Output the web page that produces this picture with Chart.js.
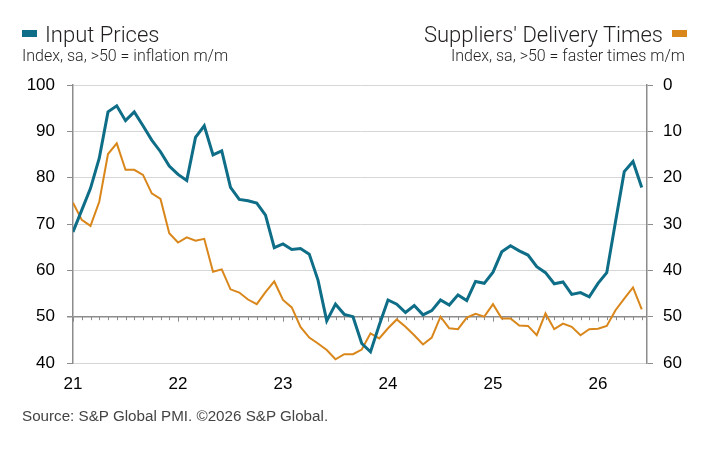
<!DOCTYPE html>
<html>
<head>
<meta charset="utf-8">
<script src="https://cdn.jsdelivr.net/npm/chart.js@4.4.1/dist/chart.umd.min.js"></script>
<style>
  body { margin: 0; background: #fff; }
  #wrap { position: relative; width: 719px; height: 452px; overflow: hidden; color: #231f20; }
  #chart { position: absolute; left: 0; top: 0; }
  .t { position: absolute; white-space: nowrap; font-family: Roboto, "Liberation Sans", sans-serif; font-weight: 300; }
  .title { font-size: 22px; line-height: 22px; top: 24px; }
  .sub { font-size: 16px; line-height: 16px; top: 48px; }
  .sq { position: absolute; top: 30px; width: 15px; height: 7px; }
  .src { position: absolute; left: 22px; top: 408px; font-family: "Liberation Sans", Arial, sans-serif; font-size: 15.2px; line-height: 15px; color: #444; white-space: nowrap; }
</style>
</head>
<body>
<div id="wrap">
  <canvas id="chart" width="719" height="452"></canvas>
  <div class="sq" style="left:22px;background:#0e6d87"></div>
  <div class="t title" style="left:45px">Input Prices</div>
  <div class="t sub" style="left:22px">Index, sa, &gt;50 = inflation m/m</div>
  <div class="t title" style="right:56px">Suppliers' Delivery Times</div>
  <div class="sq" style="left:672px;background:#d9861a"></div>
  <div class="t sub" style="right:34px">Index, sa, &gt;50 = faster times m/m</div>
  <div class="src">Source: S&amp;P Global PMI. ©2026 S&amp;P Global.</div>
</div>
<script>
// monthly, Jan 2021 .. Jun 2026
const yearLabels = ["21", "22", "23", "24", "25", "26"];
const inputPrices = [68.3, 73.0, 77.7, 84.2, 94.2, 95.5, 92.3, 94.2, 91.2, 88.1, 85.6, 82.5,
  80.7, 79.4, 88.7, 91.2, 84.9, 85.8, 77.9, 75.3, 75.0, 74.5, 71.9, 64.9,
  65.7, 64.5, 64.7, 63.5, 57.9, 49.1, 52.7, 50.5, 50.0, 44.2, 42.4, 48.2,
  53.6, 52.7, 50.9, 52.4, 50.4, 51.3, 53.6, 52.5, 54.7, 53.5, 57.6, 57.2,
  59.6, 64.0, 65.3, 64.2, 63.3, 60.8, 59.5, 57.1, 57.5, 54.8, 55.2, 54.3,
  57.2, 59.5, 70.5, 81.3, 83.5, 77.9];
// right axis, inverted
const deliveryTimes = [25.4, 29.1, 30.4, 25.2, 14.9, 12.6, 18.3, 18.3, 19.4, 23.4, 24.6, 32.0,
  34.0, 32.9, 33.6, 33.2, 40.3, 39.8, 44.1, 44.8, 46.3, 47.3, 44.7, 42.4,
  46.4, 48.0, 52.2, 54.5, 55.8, 57.2, 59.2, 58.1, 58.1, 57.1, 53.6, 54.7,
  52.5, 50.6, 52.2, 54.0, 56.0, 54.5, 50.0, 52.5, 52.7, 50.2, 49.4, 50.0,
  47.3, 50.4, 50.4, 51.9, 52.0, 54.0, 49.3, 52.7, 51.5, 52.2, 54.0, 52.7,
  52.6, 52.0, 48.6, 46.1, 43.7, 48.4];

const blue = "#0e6d87";
const orange = "#d9861a";
const axisGrey = "#8c8c8c";
const tickFont = { family: "'Liberation Sans', Arial, sans-serif", size: 17 };

// small month ticks hanging under the 50 line
const monthTicks = {
  id: "monthTicks",
  beforeDatasetsDraw(chart) {
    const { ctx, scales: { x, y } } = chart;
    const y50 = y.getPixelForValue(50);
    ctx.save();
    ctx.strokeStyle = axisGrey;
    ctx.lineWidth = 1;
    inputPrices.forEach((v, i) => {
      const px = Math.round(x.getPixelForValue(i)) + 0.5;
      ctx.beginPath();
      ctx.moveTo(px, y50);
      ctx.lineTo(px, y50 + (i % 12 === 0 ? 5 : 3.5));
      ctx.stroke();
    });
    ctx.restore();
  },
};

new Chart(document.getElementById("chart"), {
  type: "line",
  data: {
    datasets: [
      {
        label: "Input Prices",
        data: inputPrices.map((v, i) => ({ x: i, y: v })),
        borderColor: blue,
        borderWidth: 3,
        pointRadius: 0,
        tension: 0,
        yAxisID: "y",
      },
      {
        label: "Suppliers' Delivery Times",
        data: deliveryTimes.map((v, i) => ({ x: i, y: v })),
        borderColor: orange,
        borderWidth: 2,
        pointRadius: 0,
        tension: 0,
        yAxisID: "y1",
      },
    ],
  },
  options: {
    responsive: false,
    animation: false,
    layout: { padding: { top: 85 } },
    plugins: {
      legend: { display: false },
      tooltip: { enabled: false },
    },
    scales: {
      x: {
        type: "linear",
        min: 0,
        max: 65.6,
        grid: { display: false, drawTicks: false },
        border: { display: false },
        afterBuildTicks: (s) => {
          s.ticks = yearLabels.map((_, k) => ({ value: k * 12 }));
        },
        ticks: {
          callback: (v) => yearLabels[v / 12],
          padding: 11,
          autoSkip: false,
          maxRotation: 0,
          color: "#000",
          font: tickFont,
        },
        afterFit: (s) => { s.height = 89; },
      },
      y: {
        position: "left",
        min: 40,
        max: 100,
        ticks: { stepSize: 10, padding: 12, color: "#000", font: tickFont },
        grid: {
          color: (c) => (c.tick.value === 50 ? axisGrey : "#d6d6d6"),
          lineWidth: (c) => (c.tick.value === 50 ? 1.5 : 1),
          tickLength: 6,
          tickColor: axisGrey,
        },
        border: { color: axisGrey, width: 1.5 },
        afterFit: (s) => { s.width = 73; },
      },
      y1: {
        position: "right",
        reverse: true,
        min: 0,
        max: 60,
        ticks: { stepSize: 10, padding: 10, color: "#000", font: tickFont },
        grid: { drawOnChartArea: false, tickLength: 6, color: axisGrey },
        border: { color: axisGrey, width: 1.5 },
        afterFit: (s) => { s.width = 72; },
      },
    },
  },
  plugins: [monthTicks],
});
</script>
</body>
</html>
